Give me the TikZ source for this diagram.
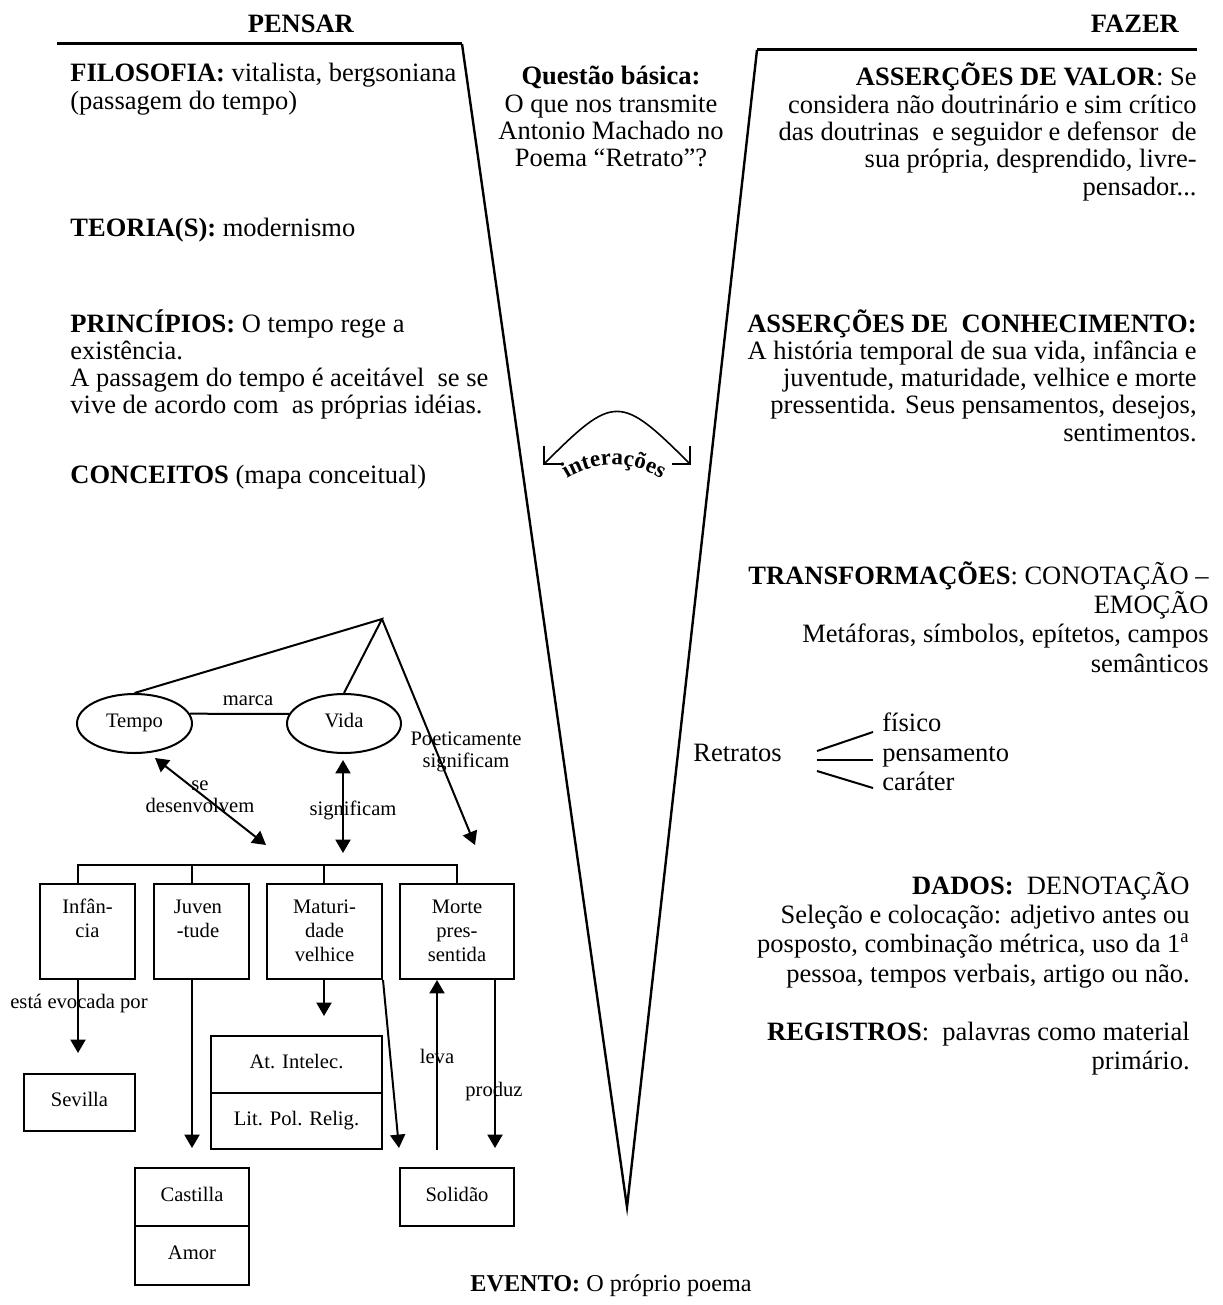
\documentclass[tikz,border=0pt]{standalone}
\usepackage{fontspec}
\setmainfont{Liberation Serif}
\usetikzlibrary{shapes.geometric,arrows.meta,decorations.text}
\newcommand\mainsize{\fontsize{13.25}{13.65}\selectfont\lineskiplimit -30pt\relax}
\newcommand\widesize{\fontsize{13.25}{14.7}\selectfont\lineskiplimit -30pt\relax}
\newcommand\mapsize{\fontsize{10.3}{12.2}\selectfont\lineskiplimit -30pt\relax}
\newcommand\labsize{\fontsize{10.3}{11.3}\selectfont\lineskiplimit -30pt\relax}
\begin{document}
% Multi-line nodes are anchored at the baseline of their last line.
\begin{tikzpicture}[x=0.5pt,y=-0.5pt,
  mtext/.style={inner sep=0pt, font=\mainsize},
  wtext/.style={inner sep=0pt, font=\widesize},
  ctext/.style={inner sep=0pt, align=center, font=\mapsize},
  ltext/.style={inner sep=0pt, align=center, font=\labsize},
  frame/.style={line width=1.2pt},
  topline/.style={line width=1.5pt},
  cline/.style={line width=1pt},
  carrow/.style={cline, -{Triangle[length=6.7pt,width=7.5pt]}},
  cdarrow/.style={cline, {Triangle[length=6.7pt,width=7.5pt]}-{Triangle[length=6.7pt,width=7.5pt]}},
  cbox/.style={draw, cline, rectangle, inner sep=0pt, text depth=3pt, ctext},
  cell/.style={draw, cline, ellipse, inner sep=0pt, text depth=3pt, ctext},
  barbs/.style={line width=0.8pt, {Straight Barb[length=6.5pt,width=13pt]}-{Straight Barb[length=6.5pt,width=13pt]}}
]
\useasboundingbox (0,0) rectangle (1222,1305);

% ---- the V frame ----
\coordinate (tl) at (57,44);
\coordinate (vl) at (462,44);
\coordinate (vb) at (627,1207);
\coordinate (vr) at (757,50);
\coordinate (tr) at (1197,50);
\draw[frame] (vl) -- (vb) -- (vr);
\draw[topline] (tl) -- (vl);
\draw[topline] (vr) -- (tr);

\node[mtext, anchor=base] (pensar) at (301,33) {\textbf{PENSAR}};
\node[mtext, anchor=base] (fazer) at (1135,33) {\textbf{FAZER}};

% ---- left side: thinking ----
\node[mtext, anchor=base west, align=left] (filo) at (70,109.3)
  {\textbf{FILOSOFIA:} vitalista, bergsoniana\\(passagem do tempo)};
\node[mtext, anchor=base west] (teo) at (70,236) {\textbf{TEORIA(S):} modernismo};
\node[mtext, anchor=base west, align=left] (princ) at (70,413.9)
  {\textbf{PRINCÍPIOS:} O tempo rege a\\existência.\\A passagem do tempo é aceitável~ se se\\vive de acordo com~ as próprias idéias.};
\node[mtext, anchor=base west] (conc) at (70,483) {\textbf{CONCEITOS} (mapa conceitual)};

% ---- centre ----
\node[mtext, anchor=base, align=center] (quest) at (611,166.9)
  {\textbf{Questão básica:}\\O que nos transmite\\Antonio Machado no\\Poema “Retrato”?};
\node[inner sep=0pt, font=\fontsize{12.1}{13}\selectfont, anchor=base west] (evento) at (470,1291)
  {\textbf{EVENTO:} O próprio poema};

\coordinate (iL) at (543,465);
\coordinate (iR) at (691,465);
\draw[barbs] (iL) .. controls (614,394) and (620,394) .. (iR);
\path[decorate, decoration={text along path, text align=center,
  text={|\fontsize{11.5}{11.5}\selectfont\bfseries|interações}}]
  (614,553) ++(130:44pt) arc[start angle=130, end angle=50, radius=44pt];

% ---- right side: doing ----
\node[mtext, anchor=base east, align=right] (valor) at (1197,195.2)
  {\textbf{ASSERÇÕES DE VALOR}: Se\\considera não doutrinário e sim crítico\\das doutrinas~ e seguidor e defensor~ de\\sua própria, desprendido, livre-\\pensador...};
\node[mtext, anchor=base east, align=right] (conhec) at (1197,441.2)
  {\textbf{ASSERÇÕES DE~ CONHECIMENTO:}\\A história temporal de sua vida, infância e\\juventude, maturidade, velhice e morte\\pressentida. Seus pensamentos, desejos,\\sentimentos.};
\node[wtext, anchor=base east, align=right] (transf) at (1209,672.2)
  {\textbf{TRANSFORMAÇÕES}: CONOTAÇÃO –\\EMOÇÃO\\Metáforas, símbolos, epítetos, campos\\semânticos};

\node[mtext, anchor=base west] (retr) at (693,761) {Retratos};
\node[mtext, anchor=base west] (fis) at (882,731) {físico};
\node[mtext, anchor=base west] (pens) at (882,761) {pensamento};
\node[mtext, anchor=base west] (carat) at (882,790) {caráter};
\coordinate (r1a) at (817,751); \coordinate (r1b) at (873,732);
\coordinate (r2a) at (817,760); \coordinate (r2b) at (873,760);
\coordinate (r3a) at (817,771); \coordinate (r3b) at (873,788);
\draw[cline] (r1a) -- (r1b);
\draw[cline] (r2a) -- (r2b);
\draw[cline] (r3a) -- (r3b);

\node[wtext, anchor=base east, align=right] (dados) at (1190,982.2)
  {\textbf{DADOS:}~ DENOTAÇÃO\\Seleção e colocação: adjetivo antes ou\\posposto, combinação métrica, uso da 1\textsuperscript{a}\\pessoa, tempos verbais, artigo ou não.};
\node[wtext, anchor=base east, align=right] (regis) at (1190,1069.4)
  {\textbf{REGISTROS}:~ palavras como material\\primário.};

% ---- concept map ----
\coordinate (apex) at (382,619);
\node[cell, minimum width=57.5pt, minimum height=29.5pt] (tempo) at (134.5,723.5) {Tempo};
\node[cell, minimum width=57pt, minimum height=29.5pt] (vida) at (344,723.5) {Vida};
\draw[cline] (tempo.north) -- (apex) -- (vida.north);
\draw[cline] (tempo.10) -- (vida.170);
\node[ctext, anchor=base] (marca) at (248,705) {marca};
\coordinate (morteIn) at (475,845);
\draw[carrow] (apex) -- (morteIn);
\node[ltext, anchor=base] (poet) at (466,767.6) {Poeticamente\\significam};

\coordinate (tA) at (155,758);
\coordinate (tB) at (266,845);
\draw[cdarrow] (tA) -- (tB);
\node[ltext, anchor=base] (desenv) at (200,812.6) {se\\desenvolvem};
\coordinate (vA) at (343,760);
\coordinate (vB) at (343,853);
\draw[cdarrow] (vA) -- (vB);
\node[ctext, anchor=base] (signif) at (353,815) {significam};

\node[cbox, minimum width=47.5pt, minimum height=47.5pt] (inf) at (87.5,931.5) {};
\node[cbox, minimum width=47.5pt, minimum height=47.5pt] (juv) at (201.5,931.5) {};
\node[cbox, minimum width=57.5pt, minimum height=47.5pt] (mat) at (324.5,931.5) {};
\node[cbox, minimum width=57pt, minimum height=47.5pt] (mor) at (457,931.5) {};
\node[ctext, anchor=base] (inft) at (87.5,937.4) {Infân-\\cia};
\node[ctext, anchor=base] (juvt) at (198,937.4) {Juven\\-tude};
\node[ctext, anchor=base] (matt) at (324.5,961.8) {Maturi-\\dade\\velhice};
\node[ctext, anchor=base] (mort) at (457,961.8) {Morte\\pres-\\sentida};

\coordinate (bus1) at (78,865);
\coordinate (bus2) at (192,865);
\coordinate (bus3) at (324,865);
\coordinate (bus4) at (457,865);
\draw[cline] (bus1 |- inf.north) -- (bus1) -- (bus4) -- (bus4 |- mor.north);
\draw[cline] (bus2) -- (bus2 |- juv.north);
\draw[cline] (bus3) -- (bus3 |- mat.north);

\node[cbox, minimum width=55.5pt, minimum height=28.5pt] (sev) at (79.5,1102.5) {Sevilla};
\node[cbox, minimum width=85.5pt, minimum height=28.5pt] (at1) at (296.5,1064.5) {At. Intelec.};
\node[cbox, minimum width=85.5pt, minimum height=28pt] (at2) at (296.5,1121) {Lit. Pol. Relig.};
\node[cbox, minimum width=57pt, minimum height=29pt] (cas) at (192,1197) {Castilla};
\node[cbox, minimum width=57pt, minimum height=29.5pt] (amor) at (192,1255.5) {Amor};
\node[cbox, minimum width=57pt, minimum height=29pt] (sol) at (457,1197) {Solidão};

\coordinate (evo) at (78,1053);
\draw[carrow] (bus1 |- inf.south) -- (evo);
\node[ctext, anchor=base east] (evol) at (148,1008) {está evocada por};
\coordinate (juvEnd) at (192,1148);
\draw[carrow] (bus2 |- juv.south) -- (juvEnd);
\coordinate (matEnd) at (324,1016);
\draw[carrow] (bus3 |- mat.south) -- (matEnd);
\coordinate (solIn) at (399,1148);
\draw[carrow] (mat.south east) -- (solIn);
\coordinate (levaStart) at (437,1150);
\draw[carrow] (levaStart) -- (levaStart |- mor.south);
\node[ctext, anchor=base] (leva) at (437,1063) {leva};
\coordinate (prodEnd) at (495,1148);
\draw[carrow] (prodEnd |- mor.south) -- (prodEnd);
\node[ctext, anchor=base] (produz) at (494,1096) {produz};
\end{tikzpicture}
\end{document}
